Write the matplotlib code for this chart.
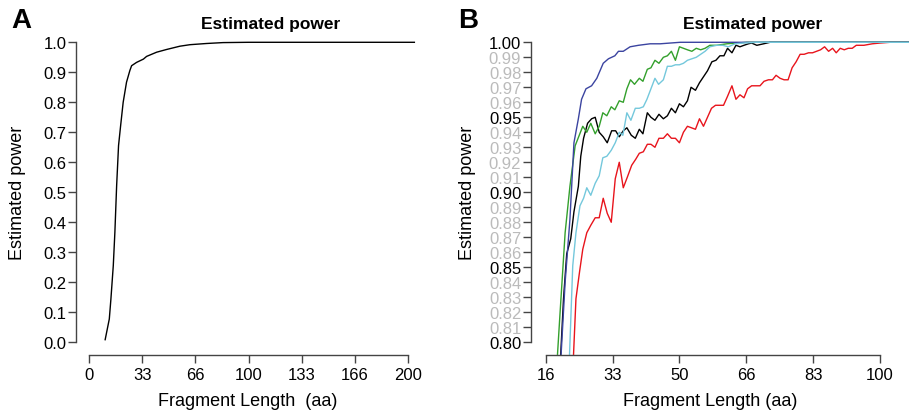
import matplotlib
matplotlib.use("Agg")
import matplotlib.pyplot as plt

plt.rcParams["font.family"] = ["Liberation Sans", "DejaVu Sans"]

# Panel A: overall estimated power
a_len = [10.0, 12.6, 13.6, 15.1, 16.1, 17.2, 18.4, 19.7, 21.3, 23.4, 25.5, 26.6,
         29.7, 34.0, 36.0, 42.3, 48.5, 56.9, 63.2, 73.6, 84.0, 100.0, 150.0, 204.0]
a_pow = [0.009, 0.078, 0.144, 0.256, 0.367, 0.522, 0.656, 0.722, 0.800, 0.867, 0.906, 0.922,
         0.933, 0.944, 0.953, 0.967, 0.976, 0.987, 0.992, 0.996, 0.999, 1.0, 1.0, 1.0]

# Panel B: zoomed series
blue_x = [20.5, 21.5, 22.7, 23.7, 24.8, 25.6, 26.7, 28.1, 29.4, 31.0, 32.3, 33.1, 33.9,
          34.8, 36.0, 37.7, 39.8, 42.7, 45.2, 47.7, 50.2, 108.0]
blue_y = [0.792, 0.840, 0.882, 0.933, 0.949, 0.962, 0.969, 0.971, 0.976, 0.986, 0.989, 0.990,
          0.991, 0.994, 0.994, 0.997, 0.998, 0.999, 0.999, 0.9995, 1.0, 1.0]

green_x = [19.6, 20.2, 21.5, 22.7, 24.0, 25.9, 26.9, 27.9, 29.0, 30.0, 30.9, 31.9, 33.0,
           33.9, 35.0, 36.0, 36.9, 37.8, 38.8, 40.0, 40.9, 42.0, 42.9, 43.9, 44.9, 46.0,
           47.0, 48.0, 49.0, 50.0, 51.0, 52.0, 53.1, 54.2, 55.3, 56.4, 57.6, 59.3, 61.8,
           64.3, 66.8, 108.0]
green_y = [0.792, 0.818, 0.873, 0.904, 0.931, 0.944, 0.940, 0.946, 0.939, 0.944, 0.953, 0.951,
           0.957, 0.955, 0.961, 0.960, 0.969, 0.975, 0.972, 0.976, 0.974, 0.982, 0.983, 0.988,
           0.986, 0.990, 0.991, 0.994, 0.988, 0.997, 0.996, 0.995, 0.994, 0.996, 0.995, 0.996,
           0.998, 0.998, 0.999, 0.9995, 1.0, 1.0]

cyan_x = [22.6, 23.4, 24.2, 25.2, 26.1, 26.9, 27.9, 29.0, 30.0, 30.9, 31.9, 33.0, 34.0,
          35.0, 35.9, 36.9, 37.9, 39.0, 40.0, 41.0, 41.9, 42.9, 43.9, 44.8, 46.0, 47.0,
          48.0, 49.0, 50.0, 51.0, 52.0, 53.1, 54.2, 55.3, 56.4, 57.6, 59.3, 60.8, 62.2,
          63.9, 66.0, 69.3, 108.0]
cyan_y = [0.792, 0.851, 0.873, 0.891, 0.896, 0.903, 0.898, 0.906, 0.911, 0.923, 0.924, 0.928,
          0.933, 0.940, 0.938, 0.953, 0.948, 0.956, 0.956, 0.957, 0.962, 0.969, 0.976, 0.972,
          0.975, 0.984, 0.984, 0.985, 0.985, 0.986, 0.988, 0.989, 0.990, 0.992, 0.994, 0.997,
          0.998, 0.998, 0.997, 0.999, 0.9995, 1.0, 1.0]

black_x = [20.4, 21.1, 21.9, 22.9, 23.7, 24.8, 25.4, 26.1, 27.1, 28.1, 29.0, 30.0, 31.0,
           32.0, 33.1, 34.1, 35.0, 36.0, 36.9, 38.0, 39.0, 40.0, 40.9, 42.0, 42.9, 43.9,
           44.9, 46.0, 47.0, 48.0, 49.0, 50.0, 51.0, 52.0, 52.9, 54.0, 55.0, 56.0, 57.0,
           58.1, 59.1, 60.1, 61.1, 62.0, 63.1, 64.1, 65.1, 66.1, 67.2, 68.0, 69.3, 71.0,
           72.6, 108.0]
black_y = [0.792, 0.829, 0.859, 0.869, 0.887, 0.904, 0.924, 0.936, 0.946, 0.949, 0.950, 0.940,
           0.937, 0.933, 0.941, 0.941, 0.937, 0.941, 0.943, 0.938, 0.936, 0.942, 0.939, 0.953,
           0.950, 0.948, 0.952, 0.949, 0.951, 0.956, 0.953, 0.959, 0.957, 0.961, 0.970, 0.968,
           0.973, 0.977, 0.981, 0.987, 0.988, 0.991, 0.991, 0.996, 0.993, 0.998, 0.997, 0.998,
           0.999, 0.9995, 0.998, 0.999, 1.0, 1.0]

red_x = [23.6, 24.2, 25.1, 25.9, 26.9, 27.9, 29.0, 30.0, 31.0, 32.0, 33.0, 34.0, 35.0,
         36.0, 37.0, 38.1, 39.1, 40.0, 41.0, 42.0, 42.9, 43.9, 44.9, 46.0, 47.0, 48.0,
         49.0, 50.0, 51.0, 52.0, 53.0, 54.0, 55.0, 56.0, 57.0, 58.0, 59.0, 60.0, 61.0,
         62.0, 63.1, 64.1, 65.1, 66.1, 67.0, 68.0, 69.1, 70.1, 71.1, 72.2, 73.2, 74.1,
         75.1, 76.1, 77.1, 78.1, 79.1, 80.1, 81.1, 82.2, 83.2, 84.2, 85.2, 86.2, 87.2,
         88.2, 89.1, 90.1, 91.1, 92.1, 93.1, 94.1, 96.0, 98.1, 100.0, 102.5, 108.0]
red_y = [0.792, 0.829, 0.847, 0.862, 0.873, 0.878, 0.883, 0.883, 0.896, 0.886, 0.880, 0.909,
         0.920, 0.903, 0.910, 0.918, 0.922, 0.926, 0.927, 0.932, 0.932, 0.930, 0.936, 0.936,
         0.939, 0.936, 0.936, 0.933, 0.940, 0.944, 0.943, 0.942, 0.949, 0.944, 0.950, 0.956,
         0.958, 0.958, 0.958, 0.964, 0.971, 0.962, 0.965, 0.963, 0.969, 0.971, 0.971, 0.971,
         0.974, 0.975, 0.975, 0.978, 0.976, 0.975, 0.975, 0.983, 0.987, 0.992, 0.992, 0.993,
         0.993, 0.994, 0.995, 0.997, 0.994, 0.996, 0.993, 0.996, 0.995, 0.996, 0.996, 0.998,
         0.998, 0.999, 0.9995, 1.0, 1.0]

a_ticks = [0, 100 / 3, 200 / 3, 100, 400 / 3, 500 / 3, 200]
a_tick_labels = ["0", "33", "66", "100", "133", "166", "200"]
b_ticks = [50 / 3, 100 / 3, 50, 200 / 3, 250 / 3, 100]
b_tick_labels = ["16", "33", "50", "66", "83", "100"]
b_yticks = [0.80 + 0.01 * i for i in range(21)]

spine_col = "#444444"


def style_axes(ax):
    for s in ["top", "right"]:
        ax.spines[s].set_visible(False)
    for s in ["left", "bottom"]:
        ax.spines[s].set_color(spine_col)
        ax.spines[s].set_linewidth(1.0)
    ax.tick_params(colors=spine_col, labelcolor="black", length=5.5, width=1.0,
                   labelsize=12)
    ax.tick_params(axis="y", pad=1.5)
    ax.tick_params(axis="x", pad=3)


fig = plt.figure(figsize=(9.09, 4.14), dpi=100)

# ---- Panel A
axA = fig.add_axes([0.0836, 0.1401, 0.374, 0.7575])
axA.plot(a_len, a_pow, color="black", lw=1.0)
axA.set_xlim(-8.3, 205)
axA.set_ylim(-0.042, 1.003)
style_axes(axA)
axA.spines["left"].set_bounds(0, 1)
axA.spines["bottom"].set_bounds(0, 200)
axA.set_yticks([i / 10 for i in range(11)])
axA.set_yticklabels([f"{i / 10:.1f}" for i in range(11)])
axA.set_xticks(a_ticks)
axA.set_xticklabels(a_tick_labels)

# ---- Panel B
axB = fig.add_axes([0.5842, 0.1401, 0.4158, 0.7575])
axB.plot(red_x, red_y, color="#e8141c", lw=1.0)
axB.plot(black_x, black_y, color="black", lw=1.0)
axB.plot(green_x, green_y, color="#33a02c", lw=1.0)
axB.plot(blue_x, blue_y, color="#3b44a0", lw=1.0)
axB.plot(cyan_x, cyan_y, color="#74c8dc", lw=1.0)
axB.set_xlim(13.0, 107.25)
axB.set_ylim(0.7915, 1.0006)
style_axes(axB)
axB.spines["left"].set_bounds(0.80, 1.0)
axB.spines["bottom"].set_bounds(50 / 3, 100)
axB.set_xticks(b_ticks)
axB.set_xticklabels(b_tick_labels)
axB.set_yticks(b_yticks)
axB.set_yticklabels([f"{v:.2f}" for v in b_yticks])
for i, lab in enumerate(axB.get_yticklabels()):
    lab.set_color("black" if i % 5 == 0 else "#bbbbbb")

# titles, labels, panel letters
fig.text(271 / 909, 1 - 25 / 414, "Estimated power", ha="center", va="center",
         fontsize=12.5, fontweight="bold")
fig.text(753 / 909, 1 - 25 / 414, "Estimated power", ha="center", va="center",
         fontsize=12.5, fontweight="bold")
fig.text(11 / 909, 1 - 8 / 414, "A", ha="left", va="top", fontsize=20, fontweight="bold")
fig.text(458 / 909, 1 - 8 / 414, "B", ha="left", va="top", fontsize=20, fontweight="bold")
fig.text(18 / 909, 1 - 193 / 414, "Estimated power", rotation=90, ha="center",
         va="center", fontsize=13)
fig.text(467 / 909, 1 - 193 / 414, "Estimated power", rotation=90, ha="center",
         va="center", fontsize=13)
fig.text(248 / 909, 1 - 402 / 414, "Fragment Length  (aa)", ha="center", va="center",
         fontsize=13)
fig.text(710 / 909, 1 - 402 / 414, "Fragment Length (aa)", ha="center", va="center",
         fontsize=13)

fig.savefig("out.png", dpi=100)
